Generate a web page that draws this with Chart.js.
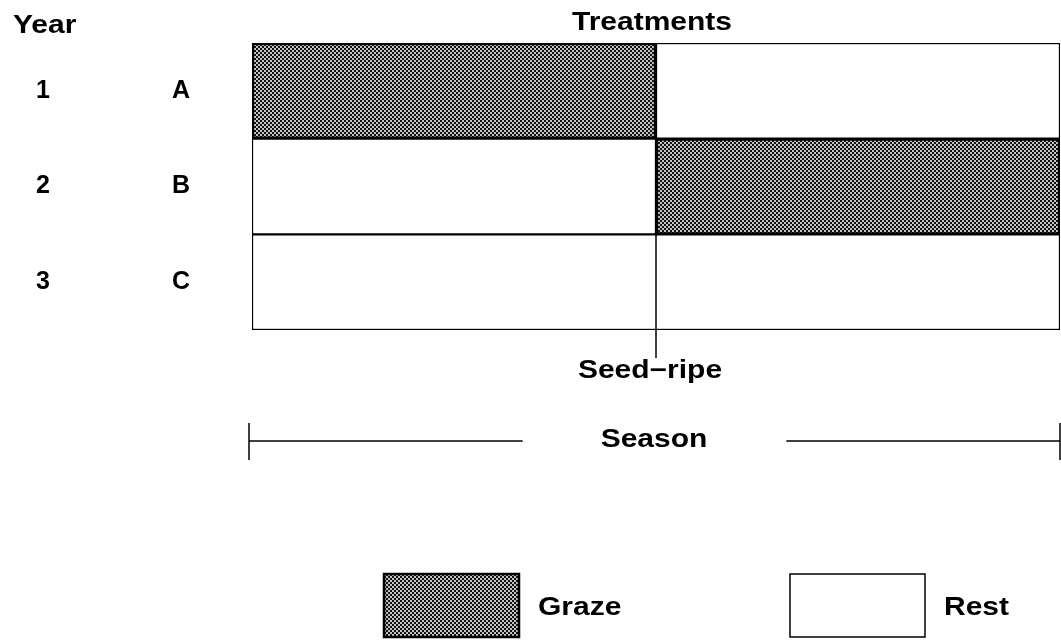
<!DOCTYPE html>
<html>
<head>
<meta charset="utf-8">
<title>Graze / Rest treatments</title>
<script src="https://cdn.jsdelivr.net/npm/chart.js@4.4.1/dist/chart.umd.min.js"></script>
<style>
    html, body { margin: 0; padding: 0; background: #fff; }
    #wrap { width: 1061px; height: 640px; }
</style>
</head>
<body>
<div id="wrap"><canvas id="rotationChart" width="1061" height="640"></canvas></div>
<script>
// Rows of the rotation (treatment letter + year), season runs 0..1
const treatments = ['A', 'B', 'C'];
const years = ['1', '2', '3'];
// floating spans along the season, seed-ripe splits it in half
const grazeSpans = [[0, 0.5], [0.5, 1], null];
const restSpans = [[0.5, 1], [0, 0.5], [0, 1]];
const seedRipe = 0.5;
const seriesNames = ['Graze', 'Rest'];

const FONT = '"Liberation Sans", Arial, Helvetica, sans-serif';
const FONT_SIZE = 25;
const FONT_WEIGHT = 'bold';
const STRETCH = 1.2; // the scan is wide, so text is stretched sideways

/**
 * Build the stippled grey fill used for grazed periods
 */
function makeStipple() {
    const tile = document.createElement('canvas');
    tile.width = 4;
    tile.height = 4;
    const t = tile.getContext('2d');
    t.fillStyle = '#c4c4c4';
    t.fillRect(0, 0, 4, 4);
    t.fillStyle = '#111111';
    t.fillRect(0, 0, 2, 2);
    t.fillRect(2, 2, 2, 2);
    return t.createPattern(tile, 'repeat');
}

/**
 * Draw text stretched horizontally, like the original scan
 */
function wideText(ctx, text, x, y, align) {
    const w = ctx.measureText(text).width * STRETCH;
    let left = x;
    if (align === 'center') left = x - w / 2;
    if (align === 'right') left = x - w;
    ctx.save();
    ctx.translate(left, y);
    ctx.scale(STRETCH, 1);
    ctx.textAlign = 'left';
    ctx.fillText(text, 0, 0);
    ctx.restore();
    return { left: left, right: left + w };
}

/**
 * Fix the width of a row axis and stop it from pushing the grid down
 */
function fixAxis(width) {
    return function(axis) {
        axis.width = width;
        axis.paddingTop = 0;
        axis.paddingBottom = 0;
    };
}

// labels, seed-ripe divider, season bar and legend
const annotations = {
    id: 'annotations',
    afterDatasetsDraw(chart) {
        const ctx = chart.ctx;
        const area = chart.chartArea;
        const x = chart.scales.x;
        const sx = x.getPixelForValue(seedRipe);
        const sets = chart.data.datasets;

        ctx.save();
        ctx.fillStyle = '#000';
        ctx.strokeStyle = '#000';
        ctx.font = FONT_WEIGHT + ' ' + FONT_SIZE + 'px ' + FONT;
        ctx.textBaseline = 'alphabetic';

        // seed-ripe line runs past the bottom of the grid
        ctx.lineWidth = 1.5;
        ctx.beginPath();
        ctx.moveTo(sx, area.top);
        ctx.lineTo(sx, area.bottom + 28);
        ctx.stroke();

        wideText(ctx, 'Year', 13, 33, 'left');
        wideText(ctx, 'Treatments', sx - 4, 30, 'center');
        wideText(ctx, 'Seed\u2212ripe', sx - 6, 378, 'center');

        // season bar
        const s = wideText(ctx, 'Season', sx - 2, 447, 'center');
        const ly = 441;
        ctx.lineWidth = 1.5;
        ctx.beginPath();
        ctx.moveTo(area.left - 3, ly);
        ctx.lineTo(s.left - 78, ly);
        ctx.moveTo(s.right + 79, ly);
        ctx.lineTo(area.right, ly);
        ctx.moveTo(area.left - 3, ly - 18);
        ctx.lineTo(area.left - 3, ly + 19);
        ctx.moveTo(area.right, ly - 18);
        ctx.lineTo(area.right, ly + 19);
        ctx.stroke();

        // legend boxes
        const legendX = [384, 790];
        sets.forEach((ds, i) => {
            const bx = legendX[i];
            ctx.fillStyle = ds.backgroundColor;
            ctx.fillRect(bx, 574, 135, 63);
            ctx.lineWidth = ds.borderWidth;
            ctx.strokeRect(bx, 574, 135, 63);
            ctx.fillStyle = '#000';
            wideText(ctx, ds.label, bx + 154, 615, 'left');
        });
        ctx.restore();
    }
};

document.addEventListener('DOMContentLoaded', function() {
    const stipple = makeStipple();
    const ctx = document.getElementById('rotationChart').getContext('2d');
    const tickFont = { family: FONT, size: FONT_SIZE, weight: FONT_WEIGHT };

    new Chart(ctx, {
        type: 'bar',
        data: {
            labels: treatments,
            datasets: [{
                label: seriesNames[0],
                data: grazeSpans,
                backgroundColor: stipple,
                borderColor: '#000',
                borderWidth: 2.5,
                borderSkipped: false,
                grouped: false,
                barPercentage: 1,
                categoryPercentage: 1,
                order: 1
            }, {
                label: seriesNames[1],
                data: restSpans,
                backgroundColor: '#ffffff',
                borderColor: '#000',
                borderWidth: 1.5,
                borderSkipped: false,
                grouped: false,
                barPercentage: 1,
                categoryPercentage: 1,
                order: 2
            }]
        },
        options: {
            indexAxis: 'y',
            responsive: false,
            animation: false,
            events: [],
            layout: {
                autoPadding: false,
                padding: { top: 43, bottom: 310, left: 0, right: 1 }
            },
            scales: {
                x: {
                    display: false,
                    min: 0,
                    max: 1
                },
                y: {
                    position: 'left',
                    weight: 1,
                    grid: { display: false },
                    border: { display: false },
                    ticks: {
                        color: '#000',
                        padding: 54,
                        font: tickFont
                    },
                    afterFit: fixAxis(172)
                },
                yYear: {
                    type: 'category',
                    labels: years,
                    position: 'left',
                    weight: 2,
                    grid: { display: false },
                    border: { display: false },
                    ticks: {
                        color: '#000',
                        padding: 22,
                        font: tickFont
                    },
                    afterFit: fixAxis(80)
                }
            },
            plugins: {
                legend: { display: false },
                tooltip: { enabled: false },
                title: { display: false }
            }
        },
        plugins: [annotations]
    });
});
</script>
</body>
</html>
